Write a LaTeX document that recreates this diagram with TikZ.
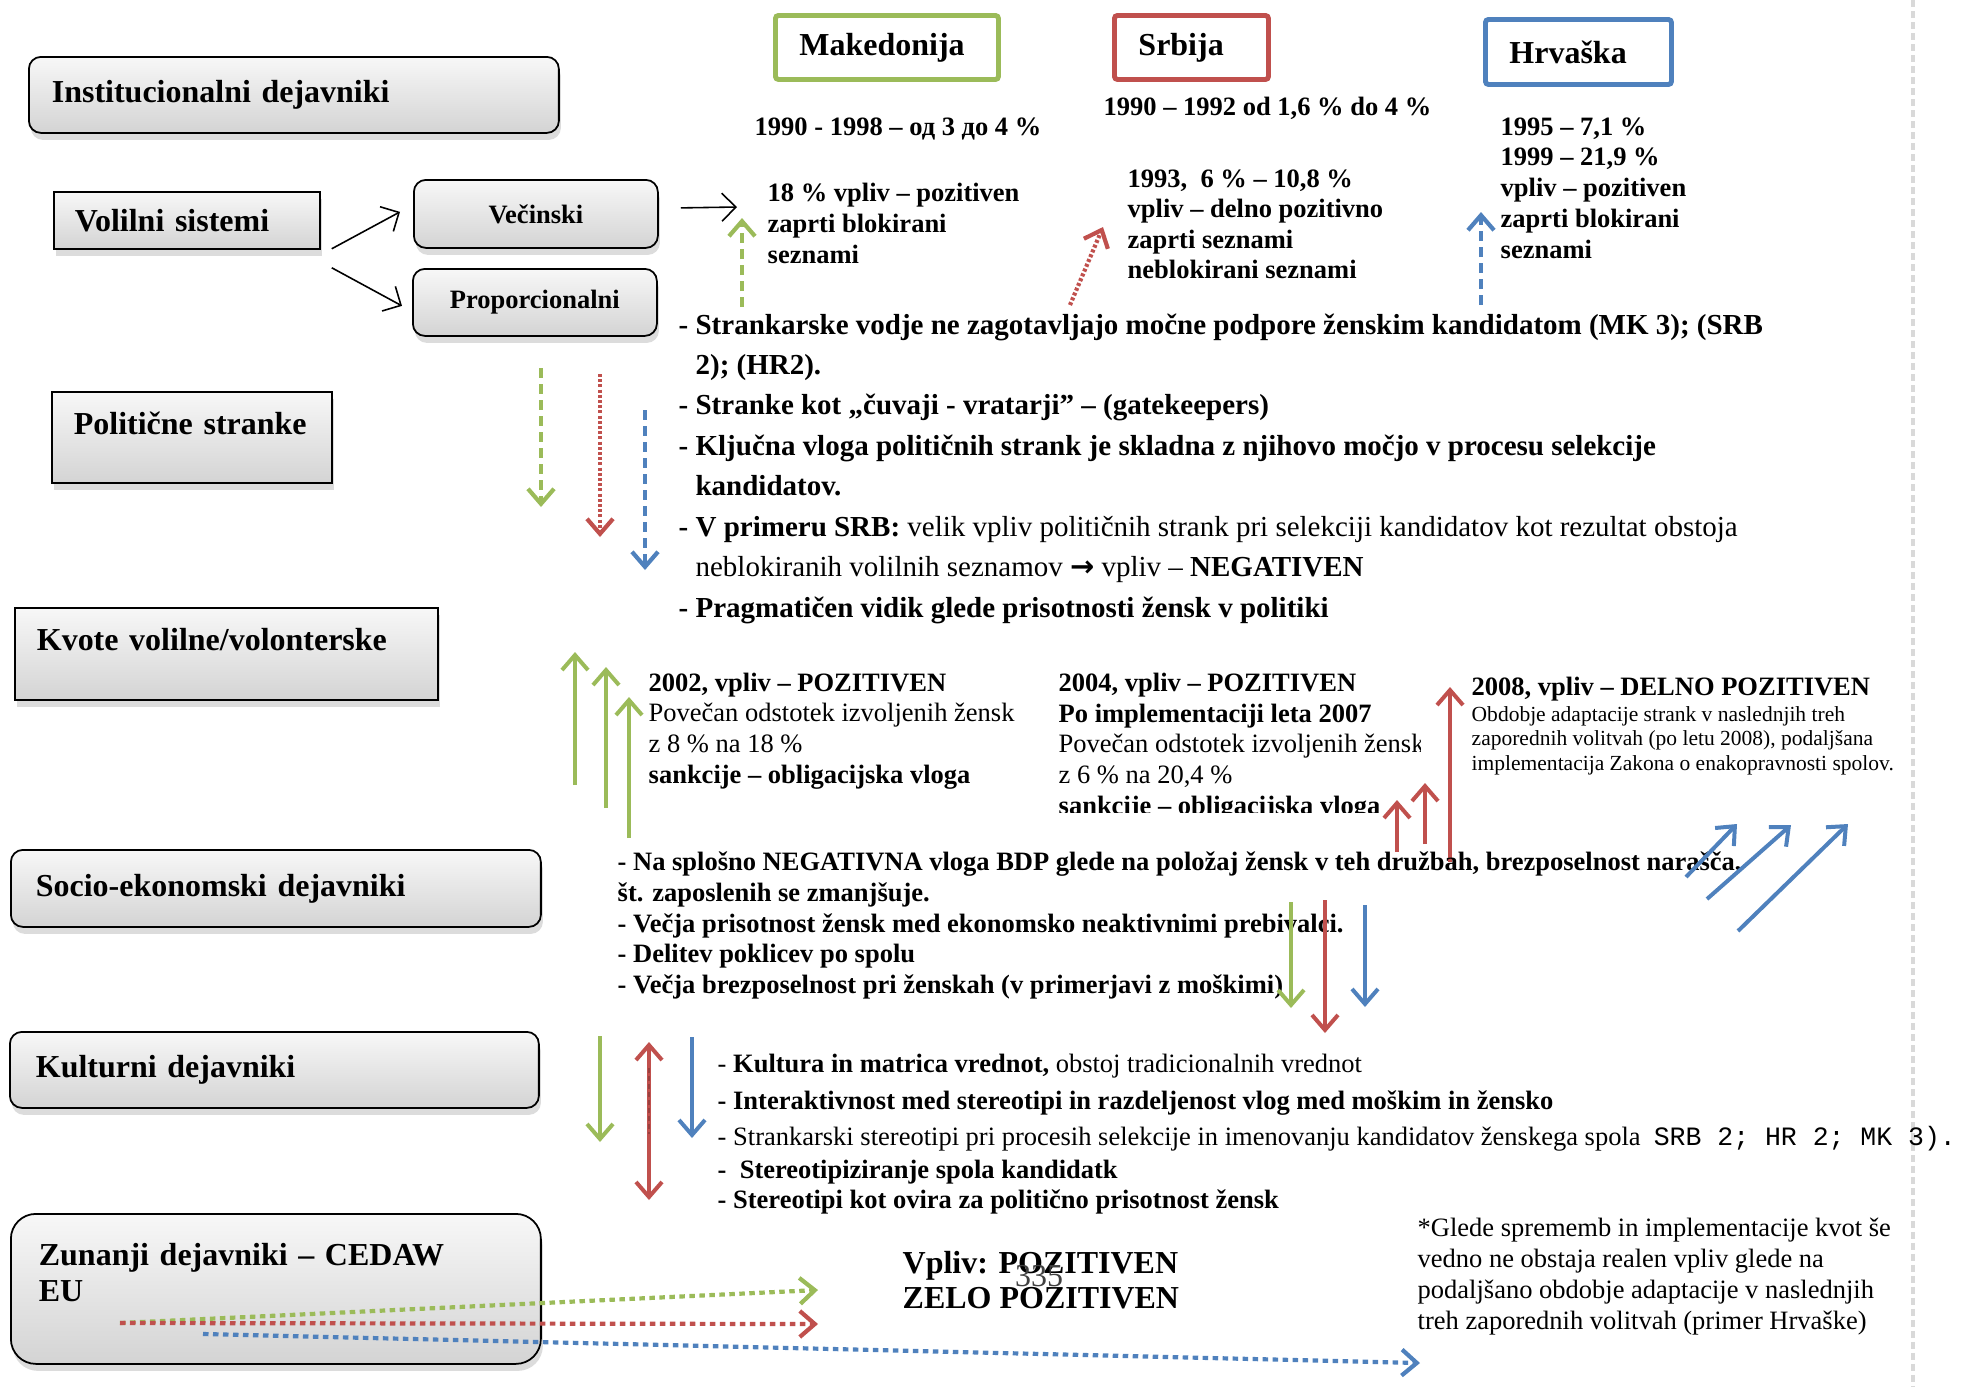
\documentclass[tikz,border=0pt]{standalone}
\usepackage{fontspec}
\setmainfont{Liberation Serif}
\setmonofont{Liberation Mono}
\newfontfamily\arrowglyph{DejaVu Sans}
\usetikzlibrary{arrows.meta,shadows}
\definecolor{mkgreen}{HTML}{9BBB59}
\definecolor{srred}{HTML}{C0504D}
\definecolor{hrblue}{HTML}{4F81BD}
\definecolor{pagerule}{HTML}{D9D9D9}
\tikzset{
  factor/.style={draw=black, line width=0.5pt, top color=gray!6, bottom color=gray!34,
    drop shadow={opacity=0.28, shadow xshift=0.2mm, shadow yshift=-0.7mm},
    anchor=north west, align=left, inner ysep=0pt,
    font=\fontsize{9.1}{10.5}\selectfont\bfseries},
  softbox/.style={rounded corners=1.2mm},
  country/.style={draw=#1, line width=1.4pt, fill=white, rounded corners=0.3mm,
    anchor=north west, align=left, inner xsep=2.4mm, inner ysep=0pt,
    font=\fontsize{9.1}{10.5}\selectfont\bfseries},
  % multi-line text: placed by the baseline of its last line
  txt/.style={anchor=base west, align=left, inner sep=0pt},
  link/.style={line width=0.45pt, -{Straight Barb[length=1.4mm,width=2.8mm]}},
  push/.style={draw=#1, line width=0.4mm, -{Straight Barb[length=1.5mm,width=2.6mm]}},
  pushdash/.style={push=#1, line width=0.42mm, dash pattern=on 1.0mm off 0.6mm},
  pushdot/.style={push=#1, line width=0.42mm, dash pattern=on 0.3mm off 0.22mm},
  eudot/.style={push=#1, line width=0.42mm, dash pattern=on 0.55mm off 0.45mm}
}
\begin{document}
\begin{tikzpicture}[x=0.1mm,y=-0.1mm]
\useasboundingbox (0,0) rectangle (1969,1386);
% page edge
\draw[pagerule, line width=0.34mm, dash pattern=on 0.7mm off 0.4mm] (1913,0) -- (1913,1386);

% factor boxes on the left
\node[factor, softbox, inner xsep=2.3mm, text width=48.4mm, minimum height=7.6mm] (inst) at (28,56) {Institucionalni dejavniki};
\node[factor, inner xsep=2.1mm, text width=22.4mm, minimum height=5.7mm] (vol) at (53,191) {Volilni sistemi};
\node[factor, softbox, align=center, minimum width=24.4mm, minimum height=6.8mm, font=\fontsize{7.54}{9}\selectfont\bfseries] (vec) at (413,179) {Večinski};
\node[factor, softbox, align=center, minimum width=24.4mm, minimum height=6.7mm, font=\fontsize{7.54}{9}\selectfont\bfseries] (prop) at (412,268) {Proporcionalni};
\node[factor, inner xsep=2.2mm, text width=23.6mm, minimum height=9.1mm, text depth=2.8mm] (party) at (51,391) {Politične stranke};
\node[factor, inner xsep=2.2mm, text width=37.9mm, minimum height=9.2mm, text depth=2.8mm] (quota) at (14,607) {Kvote volilne/volonterske};
\node[factor, softbox, inner xsep=2.5mm, text width=48mm, minimum height=7.7mm] (socio) at (10,849) {Socio-ekonomski dejavniki};
\node[factor, softbox, inner xsep=2.6mm, text width=47.7mm, minimum height=7.6mm] (culture) at (9,1031) {Kulturni dejavniki};
\node[factor, rounded corners=2.5mm, inner xsep=2.8mm, text width=47.4mm, minimum height=15mm, text depth=7mm] (extern) at (10,1213) {Zunanji dejavniki – CEDAW\\EU};

% the three countries
\node[country=mkgreen, text width=17.5mm, minimum height=6.4mm] (mkd) at (773,13) {Makedonija};
\node[country=srred, text width=10.6mm, minimum height=6.4mm] (srb) at (1112,13) {Srbija};
\node[country=hrblue, text width=13.8mm, minimum height=6.5mm] (hrv) at (1483,17) {Hrvaška};

% electoral systems
\node[txt, font=\fontsize{7.54}{8.8}\selectfont\bfseries] (mkd-a) at (754,135) {1990 - 1998 – од 3 до 4 \%};
\node[txt, font=\fontsize{7.54}{8.82}\selectfont\bfseries] (mkd-b) at (767,263) {18 \% vpliv – pozitiven\\zaprti blokirani\\seznami};
\node[txt, font=\fontsize{7.54}{8.8}\selectfont\bfseries] (srb-a) at (1103,115) {1990 – 1992 od 1,6 \% do 4 \%};
\node[txt, font=\fontsize{7.54}{8.54}\selectfont\bfseries] (srb-b) at (1127,278) {1993,\ \ 6 \% – 10,8 \%\\vpliv – delno pozitivno\\zaprti seznami\\neblokirani seznami};
\node[txt, font=\fontsize{7.54}{8.75}\selectfont\bfseries] (hrv-a) at (1500,258) {1995 – 7,1 \%\\1999 – 21,9 \%\\vpliv – pozitiven\\zaprti blokirani\\seznami};

\draw[link] ([shift={(11,-1)}]vol.south east) -- ([shift={(-13,-2)}]vec.west);
\draw[link] ([shift={(11,18)}]vol.south east) -- ([shift={(-10,3.5)}]prop.west);
\draw[link] ([shift={(22,-6)}]vec.east) -- ([shift={(-30,-56)}]mkd-b.base west);

% political parties
\node[txt, font=\fontsize{8.25}{11.5}\selectfont\bfseries] (party-list) at (678,617) {%
- Strankarske vodje ne zagotavljajo močne podpore ženskim kandidatom (MK 3); (SRB\\
\phantom{- }2); (HR2).\\
- Stranke kot „čuvaji - vratarji” – (gatekeepers)\\
- Ključna vloga političnih strank je skladna z njihovo močjo v procesu selekcije\\
\phantom{- }kandidatov.\\
- V primeru SRB: {\mdseries velik vpliv političnih strank pri selekciji kandidatov kot rezultat obstoja}\\
\phantom{- }{\mdseries neblokiranih volilnih seznamov {\arrowglyph\bfseries →} vpliv –} NEGATIVEN\\
- Pragmatičen vidik glede prisotnosti žensk v politiki};

\draw[pushdash=mkgreen] (742,307) -- (742,218);
\draw[pushdot=srred] (1070,305) -- (1103,227);
\draw[pushdash=hrblue] (1481,305) -- (1481,212);
\draw[pushdash=mkgreen] (541,368) -- (541,507);
\draw[pushdot=srred] (600,374) -- (600,537);
\draw[pushdash=hrblue] (645,410) -- (645,570);

% quotas
\node[txt, font=\fontsize{7.54}{8.72}\selectfont] (q-mkd) at (648,783) {\textbf{2002, vpliv – POZITIVEN}\\Povečan odstotek izvoljenih žensk\\z 8 \% na 18 \%\\\textbf{sankcije – obligacijska vloga}};
\begin{scope}
\clip (1000,640) rectangle (1420,812);
\node[txt, font=\fontsize{7.54}{8.72}\selectfont] (q-srb) at (1058,814) {\textbf{2004, vpliv – POZITIVEN}\\\textbf{Po implementaciji leta 2007}\\Povečan odstotek izvoljenih žensk\\z 6 \% na 20,4 \%\\\textbf{sankcije – obligacijska vloga}};
\end{scope}
\node[txt, font=\fontsize{7.54}{8.8}\selectfont\bfseries] (q-hrv) at (1471,695) {2008, vpliv – DELNO POZITIVEN};
\node[txt, font=\fontsize{6.12}{6.97}\selectfont] (q-hrv-note) at (1471,770) {Obdobje adaptacije strank v naslednjih treh\\zaporednih volitvah (po letu 2008), podaljšana\\implementacija Zakona o enakopravnosti spolov.};

\foreach \x/\a/\b in {575/785/652, 606/808/667, 629/838/697}
  \draw[push=mkgreen] (\x,\a) -- (\x,\b);
\foreach \x/\a/\b in {1397/852/800, 1425/844/783, 1450/862/687}
  \draw[push=srred] (\x,\a) -- (\x,\b);

% socio-economic factors
\node[txt, font=\fontsize{7.54}{8.68}\selectfont\bfseries] (socio-list) at (617,993) {%
- Na splošno NEGATIVNA vloga BDP glede na položaj žensk v teh družbah, brezposelnost narašča,\\
št. zaposlenih se zmanjšuje.\\
- Večja prisotnost žensk med ekonomsko neaktivnimi prebivalci.\\
- Delitev poklicev po spolu\\
- Večja brezposelnost pri ženskah (v primerjavi z moškimi)};

\draw[push=mkgreen] (1291,902) -- (1291,1008);
\draw[push=srred] (1325,900) -- (1325,1033);
\draw[push=hrblue] (1365,905) -- (1365,1007);
\foreach \xa/\ya/\xb/\yb in {1686/877/1737/824, 1707/899/1791/825, 1738/931/1848/824}
  \draw[push=hrblue] (\xa,\ya) -- (\xb,\yb);

% cultural factors
\node[txt, font=\fontsize{7.54}{8.54}\selectfont] (culture-list) at (717,1208) {%
- \textbf{Kultura in matrica vrednot,} obstoj tradicionalnih vrednot\\[0.7mm]
\textbf{- Interaktivnost med stereotipi in razdeljenost vlog med moškim in žensko}\\[0.6mm]
- Strankarski stereotipi pri procesih selekcije in imenovanju kandidatov ženskega spola\ \ \texttt{SRB 2; HR 2; MK 3).}\\[0.2mm]
\textbf{-\ \ Stereotipiziranje spola kandidatk}\\
\textbf{- Stereotipi kot ovira za politično prisotnost žensk}};

\draw[push=mkgreen] (600,1036) -- (600,1142);
\draw[push=srred, {Straight Barb[length=1.5mm,width=2.6mm]}-{Straight Barb[length=1.5mm,width=2.6mm]}] (649,1042) -- (649,1200);
\draw[srred!80!black, line width=0.25mm, dash pattern=on 0.5mm off 0.3mm] (649,1068) -- (649,1134);
\draw[push=hrblue] (692,1037) -- (692,1138);

% external factors
\node[txt, font=\fontsize{9.1}{9.96}\selectfont\bfseries] (impact) at (902,1308) {Vpliv: POZITIVEN\\ZELO POZITIVEN};
\node[anchor=base, inner sep=0pt, text=black!75, font=\fontsize{9.1}{10}\selectfont] (page) at (1039,1286) {335};
\node[txt, font=\fontsize{7.54}{8.73}\selectfont] (extern-note) at (1417,1329) {*Glede sprememb in implementacije kvot še\\vedno ne obstaja realen vpliv glede na\\podaljšano obdobje adaptacije v naslednjih\\treh zaporednih volitvah (primer Hrvaške)};

\draw[eudot=mkgreen] (120,1323) -- (818,1290);
\draw[eudot=srred] (120,1323) -- (818,1324);
\draw[eudot=hrblue] (203,1334) -- (1420,1363);
\end{tikzpicture}
\end{document}
